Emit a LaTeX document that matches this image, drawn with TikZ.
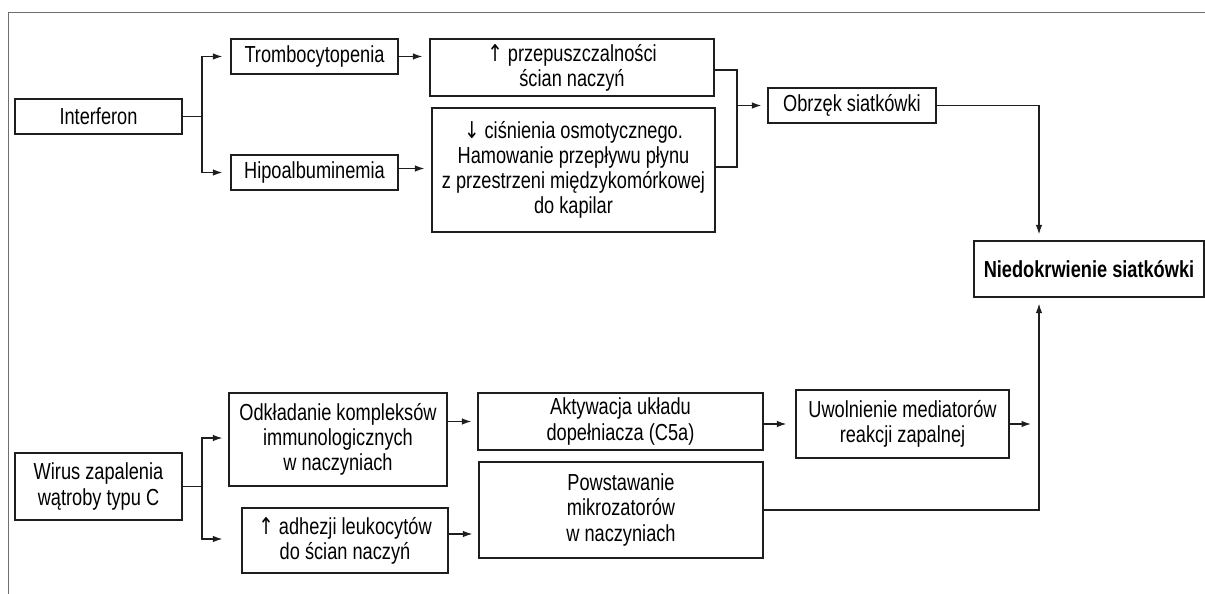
\documentclass[tikz,border=0pt]{standalone}
\usepackage{xcolor}
\usepackage{fontspec}
\setmainfont{Liberation Sans}[FakeStretch=0.785]
\newfontfamily\arrowfont{DejaVu Sans}[FakeStretch=0.8]
\newcommand{\up}{{\arrowfont ↑}}
\newcommand{\down}{{\arrowfont ↓}}
\usepackage{tikz}
\usetikzlibrary{arrows.meta, positioning, calc}
\definecolor{mydark}{RGB}{30,30,30}
\definecolor{myframe}{RGB}{110,110,110}
\tikzset{
  box/.style={rectangle, draw=mydark, fill=white, align=center,
    inner sep=0pt, line width=0.7pt,
    font=\fontsize{13.2pt}{14.3pt}\selectfont},
  arrow/.style={-{Latex[length=0.19cm,width=0.13cm]}, line width=0.7pt, color=mydark},
  line/.style={line width=0.7pt, color=mydark}
}

\begin{document}
\begin{tikzpicture}[x=0.02cm, y=-0.02cm]
  \useasboundingbox (0,0) rectangle (1205,594);

  % Frame (top and left edge)
  \draw[color=myframe, line width=0.6pt] (1205,12.5) -- (8.5,12.5) -- (8.5,594);

  % Upper branch: Interferon
  \node[box, minimum width=3.34cm, minimum height=0.70cm] (interf) at (98.5,116.5) {Interferon};
  \node[box, minimum width=3.34cm, minimum height=0.70cm] (tromb) at (314.5,56.5) {Trombocytopenia};
  \node[box, minimum width=3.34cm, minimum height=0.70cm] (hipo) at (314.5,172.5) {Hipoalbuminemia};
  \node[box, minimum width=5.68cm, minimum height=1.14cm] (przep) at (572,67.5)
    {\up{} przepuszczalności\\ścian naczyń};
  \node[box, minimum width=5.66cm, minimum height=2.48cm] (cisn) at (573.5,170)
    {\down{} ciśnienia osmotycznego.\\Hamowanie przepływu płynu\\z przestrzeni międzykomórkowej\\do kapilar};
  \node[box, minimum width=3.36cm, minimum height=0.70cm] (obrzek) at (852,105.5) {Obrzęk siatkówki};

  % Target
  \node[box, minimum width=4.60cm, minimum height=1.12cm,
    font=\fontsize{13.2pt}{14.3pt}\selectfont\bfseries] (niedo) at (1089,269) {Niedokrwienie siatkówki};

  % Lower branch: HCV
  \node[box, minimum width=3.34cm, minimum height=1.34cm] (wirus) at (98.5,486.5)
    {Wirus zapalenia\\wątroby typu C};
  \node[box, minimum width=4.36cm, minimum height=1.86cm] (odkl) at (338,439.5)
    {Odkładanie kompleksów\\immunologicznych\\w naczyniach};
  \node[box, minimum width=4.12cm, minimum height=1.30cm] (adhez) at (345,540.5)
    {\up{} adhezji leukocytów\\do ścian naczyń};
  \node[box, minimum width=5.70cm, minimum height=1.14cm] (aktyw) at (620.5,421.5)
    {Aktywacja układu\\dopełniacza (C5a)};
  \node[box, minimum width=5.68cm, minimum height=1.92cm] (powst) at (621,510)
    {Powstawanie\\mikrozatorów\\w naczyniach};
  \node[box, minimum width=4.26cm, minimum height=1.36cm] (uwoln) at (902.5,424)
    {Uwolnienie mediatorów\\reakcji zapalnej};

  % Junction points
  \coordinate (forkA) at (202,116.5);
  \coordinate (forkB) at (202,486.5);
  \coordinate (joinA) at (737,105.5);
  \coordinate (upin) at (1039,0);

  % Interferon fork
  \draw[line] (interf.east) -- (forkA);
  \draw[arrow, shorten >=0.16cm] (forkA) |- (tromb.west);
  \draw[arrow, shorten >=0.16cm] (forkA) |- (hipo.west);
  \draw[arrow, shorten >=0.14cm] (tromb.east) -- (tromb.east -| przep.west);
  \draw[arrow, shorten >=0.14cm] ([yshift=0.08cm]hipo.east) -- ([yshift=0.08cm]hipo.east -| cisn.west);

  % Bracket into oedema
  \draw[line] ([yshift=-0.05cm]przep.east) -| (joinA) |- ([yshift=0.06cm]cisn.east);
  \draw[arrow, shorten >=0.12cm] (joinA) -- (obrzek.west);
  \draw[arrow, shorten >=0.12cm] (obrzek.east) -| (upin |- niedo.north);

  % HCV fork
  \draw[line] (wirus.east) -- (forkB);
  \draw[arrow, shorten >=0.12cm] (forkB) |- ([yshift=0.03cm]odkl.west);
  \draw[arrow, shorten >=0.38cm] (forkB) |- ([yshift=0.03cm]adhez.west);
  \draw[arrow, shorten >=0.12cm] (odkl.east |- aktyw.west) -- (aktyw.west);
  \draw[arrow, shorten >=0.12cm] ([yshift=0.13cm]adhez.east) -- ([yshift=0.13cm]adhez.east -| powst.west);
  \draw[arrow, shorten >=0.18cm] (aktyw.east |- uwoln.west) -- (uwoln.west);
  \draw[arrow, shorten >=0.16cm] (uwoln.east) -- (uwoln.east -| upin);
  \draw[arrow, shorten >=0.12cm] (powst.east) -| (upin |- niedo.south);
\end{tikzpicture}
\end{document}
